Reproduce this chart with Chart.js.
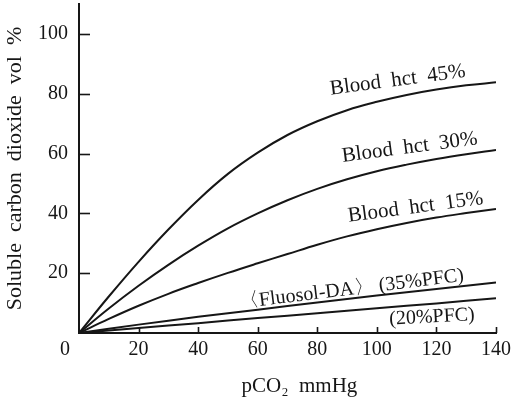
<!DOCTYPE html>
<html><head><meta charset="utf-8">
<script src="https://cdn.jsdelivr.net/npm/chart.js@4/dist/chart.umd.min.js"></script>
<style>html,body{margin:0;padding:0;background:#fff}#wrap{width:511px;height:400px}</style>
</head><body><div id="wrap"><canvas id="c" width="511" height="400"></canvas></div>
<script>
// ---- data ----
const pco2 = [0, 10, 20, 30, 40, 50, 60, 70, 80, 90, 100, 110, 120, 130, 140];
const hct45 = [0, 12.2, 23.8, 34.6, 44.5, 53.2, 60.3, 66.2, 70.8, 74.5, 77.3, 79.6, 81.4, 82.8, 83.8];
const hct30 = [0, 8.2, 15.8, 22.8, 29.2, 35, 40, 44.4, 48.2, 51.4, 54.1, 56.3, 58.2, 59.8, 61.2];
const hct15 = [0, 4.7, 9.1, 13.1, 16.7, 20.1, 23.3, 26.4, 29.5, 32.3, 34.7, 36.8, 38.6, 40.1, 41.5];
const pco2Pfc = [0, 20, 40, 60, 80, 100, 120, 140];
const pfc35 = [0, 2.8, 5.4, 7.8, 10.2, 12.5, 14.7, 16.9];
const pfc20 = [0, 1.7, 3.3, 5, 6.6, 8.3, 9.9, 11.6];
const xTicks = [20, 40, 60, 80, 100, 120, 140];
const yTicks = [20, 40, 60, 80, 100];
const originLabel = '0';
const xTitle = 'pCO\u2082  mmHg';
const yTitle = 'Soluble  carbon  dioxide  vol  %';
const curveTexts = ['Blood  hct  45%', 'Blood  hct  30%', 'Blood  hct  15%', '\u3008Fluosol-DA\u3009 (35%PFC)', '(20%PFC)'];

// ---- label placement (data coordinates) ----
const labelPos = [
  {x: 107, y: 84.5, a: -7.5},
  {x: 111, y: 62, a: -7.5},
  {x: 113, y: 42, a: -7.5},
  {x: 91.5, y: 14.6, a: -7},
  {x: 118.5, y: 5.3, a: -3}
];

const ink = '#161616';
const serif = '"Liberation Serif", "Times New Roman", serif';

const pts = (xs, ys) => xs.map((x, i) => ({x, y: ys[i]}));
const line = (d) => ({data: d, borderColor: ink, borderWidth: 2, pointRadius: 0, fill: false, tension: 0.4});

const decor = {
  id: 'decor',
  afterDraw(chart) {
    const ctx = chart.ctx, xs = chart.scales.x, ys = chart.scales.y;
    ctx.save();
    ctx.strokeStyle = ink; ctx.lineWidth = 1.6;
    yTicks.forEach(v => { const py = Math.round(ys.getPixelForValue(v)) + 0.5; ctx.beginPath(); ctx.moveTo(xs.left, py); ctx.lineTo(xs.left + 11, py); ctx.stroke(); });
    xTicks.forEach(v => { const px = Math.round(xs.getPixelForValue(v)) + 0.5; ctx.beginPath(); ctx.moveTo(px, ys.bottom); ctx.lineTo(px, ys.bottom - 6); ctx.stroke(); });
    ctx.fillStyle = ink;
    ctx.textAlign = 'center'; ctx.textBaseline = 'middle';
    ctx.font = '20px ' + serif;
    ctx.fillText(originLabel, xs.left - 14, ys.bottom + 17);
    ctx.font = '21px ' + serif;
    ctx.fillText(xTitle, xs.getPixelForValue(74), 386);
    curveTexts.forEach((t, i) => {
      const p = labelPos[i];
      ctx.save();
      ctx.translate(xs.getPixelForValue(p.x), ys.getPixelForValue(p.y));
      ctx.rotate(p.a * Math.PI / 180);
      ctx.font = (i >= 3 ? '20px ' : '21px ') + serif;
      ctx.fillText(t, 0, 0);
      ctx.restore();
    });
    ctx.restore();
  }
};

new Chart(document.getElementById('c'), {
  type: 'line',
  data: {datasets: [line(pts(pco2, hct45)), line(pts(pco2, hct30)), line(pts(pco2, hct15)), line(pts(pco2Pfc, pfc35)), line(pts(pco2Pfc, pfc20))]},
  options: {
    responsive: false, animation: false, devicePixelRatio: 1,
    layout: {padding: {left: 0, right: 15, top: 4, bottom: 0}},
    plugins: {legend: {display: false}, tooltip: {enabled: false}},
    scales: {
      x: {
        type: 'linear', min: 0, max: 140,
        afterBuildTicks: s => { s.ticks = xTicks.map(v => ({value: v})); },
        afterFit: s => { s.height = 67; s.paddingLeft = 0; s.paddingRight = 0; },
        ticks: {color: ink, font: {family: serif, size: 20}, padding: 5, maxRotation: 0},
        grid: {display: true, drawOnChartArea: false, drawTicks: false},
        border: {display: true, color: ink, width: 2}
      },
      y: {
        type: 'linear', min: 0, max: 110,
        afterBuildTicks: s => { s.ticks = yTicks.map(v => ({value: v})); },
        afterFit: s => { s.width = 79; s.paddingTop = 0; s.paddingBottom = 0; },
        ticks: {color: ink, font: {family: serif, size: 20}, padding: 11},
        grid: {display: true, drawOnChartArea: false, drawTicks: false},
        border: {display: true, color: ink, width: 2},
        title: {display: true, text: yTitle, color: ink, font: {family: serif, size: 22}, padding: {top: 2, bottom: 0}}
      }
    }
  },
  plugins: [decor]
});
</script></body></html>
